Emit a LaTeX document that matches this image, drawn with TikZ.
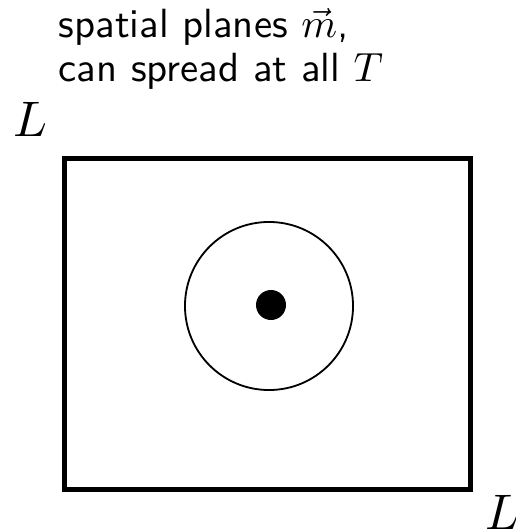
\documentclass[tikz,border=0pt]{standalone}
\usepackage{amsmath,amssymb}
\usepackage{tikz}
\usetikzlibrary{positioning}

\begin{document}
\begin{tikzpicture}[
					x=0.025cm, y=-0.025cm,
					frame/.style={rectangle, draw=black, line width=3.6pt, minimum width=10.15cm, minimum height=8.28cm, inner sep=0pt},
					ring/.style={circle, draw=black, line width=1.3pt, minimum size=4.2cm, inner sep=0pt},
					dot/.style={circle, fill=black, minimum size=0.75cm, inner sep=0pt},
					side/.style={font=\fontsize{10}{12}\selectfont, scale=3.55, inner sep=0pt},
					caption/.style={font=\fontsize{10}{10.8}\selectfont\sffamily, scale=2.9, align=left, inner sep=0pt}
					]
					\useasboundingbox (0,0) rectangle (515,530);
					% Define nodes
					\node[frame] (box) at (267.5,324) {};
					\node[ring] (ring) at (269,306) {};
					\node[dot] (dot) at (271,305) {};
					\node[caption, anchor=north west] (text) at (58,8) {spatial planes \(\vec{m}\),\\can spread at all \(T\)};
					\node[side] (Ltop) at (30,119) {\(L\)};
					\node[side] (Lbot) at (502,512) {\(L\)};
				\end{tikzpicture}
\end{document}
